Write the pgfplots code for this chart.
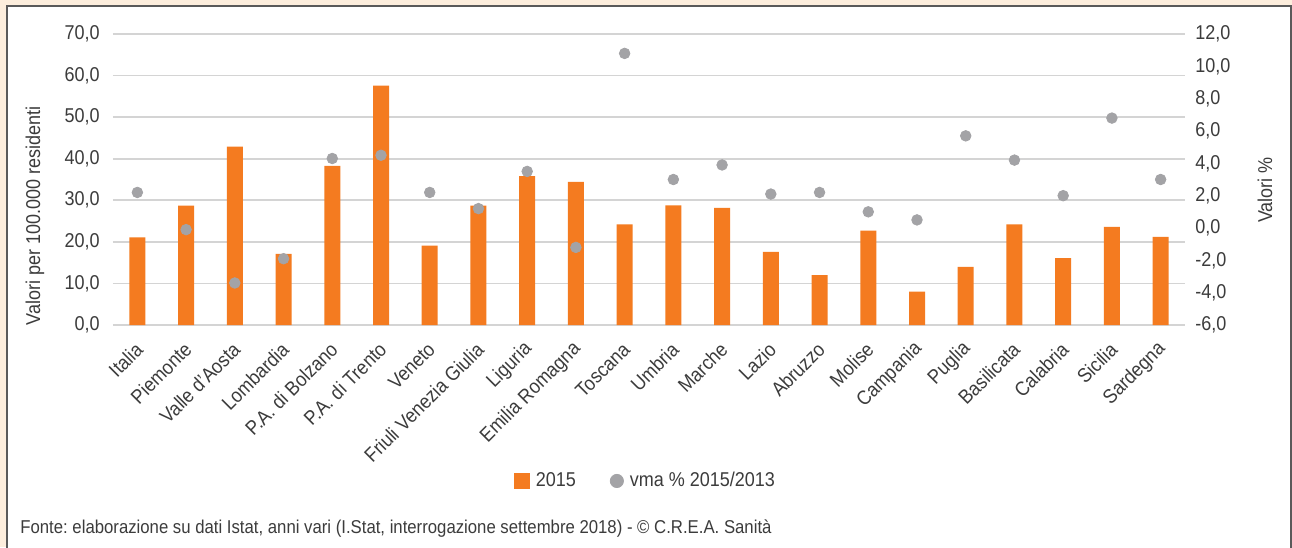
\documentclass[border=0pt]{standalone}
\usepackage{pgfplots}
\usepackage{pgfplotstable}
\pgfplotsset{compat=1.18}
\usepackage{fontspec}
\setmainfont{Liberation Sans}[FakeStretch=0.9]
\frenchspacing

\definecolor{orangebar}{HTML}{F47B20}
\definecolor{graydot}{HTML}{A3A3A6}
\definecolor{gridgray}{HTML}{D4D4D4}
\definecolor{txt}{HTML}{3C3C3C}
\definecolor{cream}{HTML}{FDEEDD}
\definecolor{frame}{HTML}{5A5A5A}

% regione, tasso 2015, vma % 2015/2013
\pgfplotstableread{
x  val   vma
0  21.1  2.2
1  28.7  -0.1
2  42.9  -3.4
3  17.1  -1.9
4  38.3  4.3
5  57.6  4.5
6  19.1  2.2
7  28.7  1.2
8  35.8  3.5
9  34.4  -1.2
10 24.2  10.8
11 28.8  3.0
12 28.2  3.9
13 17.6  2.1
14 12.0  2.2
15 22.7  1.0
16 8.0   0.5
17 14.0  5.7
18 24.2  4.2
19 16.1  2.0
20 23.6  6.8
21 21.2  3.0
}\datatable

\pgfplotsset{
  common/.style={
    at={(56.5pt,111pt)}, anchor=south west,
    scale only axis, width=536pt, height=145.5pt,
    xmin=-0.5, xmax=21.5,
    axis line style={draw=none},
    major tick length=0pt,
    font=\fontsize{10}{12}\selectfont,
    every tick label/.append style={text=txt},
    /pgf/number format/.cd, fixed, fixed zerofill, precision=1, use comma, assume math mode=true,
  },
}

\begin{document}
\begin{tikzpicture}
\useasboundingbox (0,0) rectangle (646pt,273.5pt);
\fill[cream] (0,0) rectangle (646pt,273.5pt);
\filldraw[fill=white, draw=frame, line width=0.6pt] (3.5pt,-5pt) rectangle (645.5pt,270.5pt);

\begin{axis}[common,
    ymin=0, ymax=70, ytick={0,10,...,70},
    ymajorgrids, grid style={gridgray, line width=0.8pt},
    xtick={0,...,21},
    xticklabels={Italia, Piemonte, Valle d'Aosta, Lombardia, P.A. di Bolzano, P.A. di Trento, Veneto, Friuli Venezia Giulia, Liguria, Emilia Romagna, Toscana, Umbria, Marche, Lazio, Abruzzo, Molise, Campania, Puglia, Basilicata, Calabria, Sicilia, Sardegna},
    xticklabel style={rotate=45, anchor=east, inner sep=0pt, xshift=-6.7pt, yshift=-8.1pt},
    yticklabel style={anchor=east, inner sep=0pt, xshift=-6.5pt},
    ylabel={Valori per 100.000 residenti},
    ylabel style={at={(axis description cs:-0.0728,0.375)}, anchor=center, text=txt},
  ]
  \addplot[ybar, bar width=8pt, fill=orangebar, draw=none] table[x=x, y=val] {\datatable};
\end{axis}

\begin{axis}[common,
    ymin=-6, ymax=12, ytick={-6,-4,...,12},
    axis y line*=right, hide x axis,
    yticklabel style={anchor=west, inner sep=0pt, xshift=5pt},
    ylabel={Valori \%},
    ylabel style={at={(axis description cs:1.0746,0.464)}, anchor=center, text=txt},
    legend style={at={(0.4986,-0.536)}, anchor=center, draw=none, fill=none,
      legend columns=2, text=txt, font=\fontsize{10}{12}\selectfont,
      nodes={inner sep=3pt},
      /tikz/every even column/.append style={column sep=14pt}},
  ]
  \addlegendimage{legend image code/.code={\fill[orangebar] (0pt,-3.75pt) rectangle (7.5pt,3.75pt);}}
  \addlegendentry{2015}
  \addplot[only marks, mark=*, mark size=2.65pt, graydot,
    legend image code/.code={\fill[graydot] (3.5pt,0pt) circle (3.3pt);}]
    table[x=x, y=vma] {\datatable};
  \addlegendentry{vma \% 2015/2013}
\end{axis}

\node[anchor=base west, inner sep=0pt, text=txt, font=\fontsize{9.3}{11}\selectfont] at (10pt,7pt)
  {Fonte: elaborazione su dati Istat, anni vari (I.Stat, interrogazione settembre 2018) - © C.R.E.A. Sanità};
\end{tikzpicture}
\end{document}
